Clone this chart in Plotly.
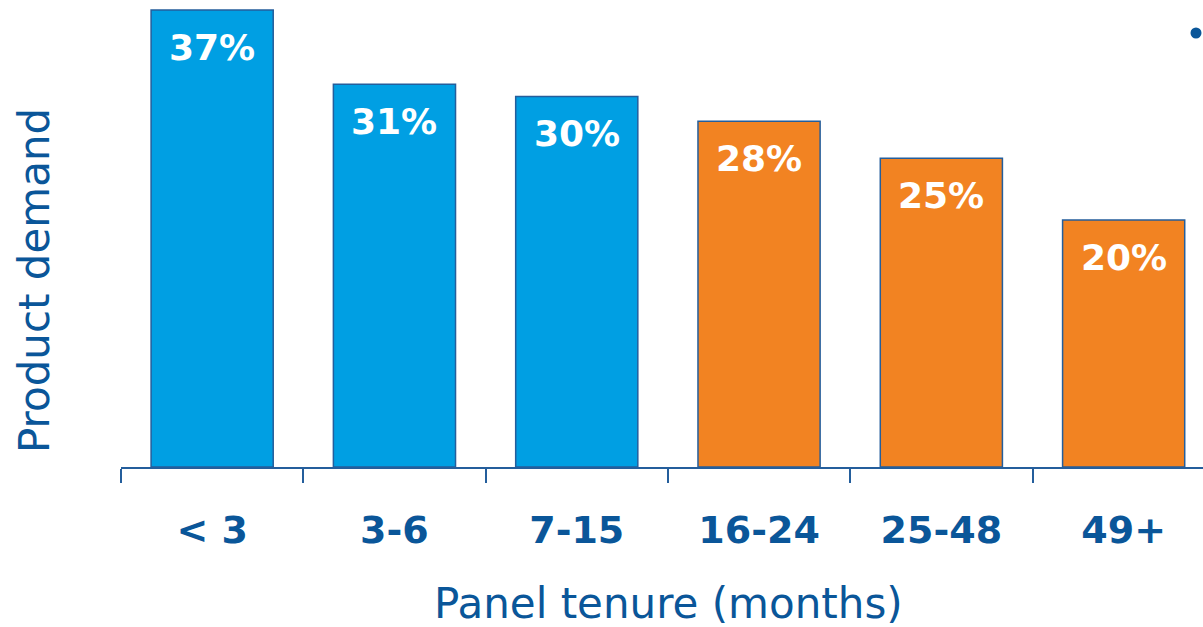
import plotly.graph_objects as go

# ---- data ----
categories = ["< 3", "3-6", "7-15", "16-24", "25-48", "49+"]
demand_pct = [37, 31, 30, 28, 25, 20]
tenure_group = ["new", "new", "new", "long", "long", "long"]
value_labels = [f"{v}%" for v in demand_pct]
x_title = "Panel tenure (months)"
y_title = "Product demand"

# ---- styles ----
BLUE = "#009FE3"
ORANGE = "#F28322"
DARK = "#0A5699"
LINE = "#245E9C"
group_colors = {"new": BLUE, "long": ORANGE}
bar_colors = [group_colors[g] for g in tenure_group]

W, H = 1203, 627
ML, MB, MT, MR = 121, 160, 0, 0
cat_px = 182.3
plot_w = W - ML - MR
x_hi = -0.5 + plot_w / cat_px
px_per_unit = 12.35
plot_h = H - MB - MT
y_hi = plot_h / px_per_unit


def px_x(px):
    return (px - ML) / plot_w


def px_y(py):
    return 1 - (py - MT) / plot_h


fig = go.Figure()
fig.add_trace(go.Bar(
    x=categories,
    y=demand_pct,
    width=0.67,
    marker=dict(color=bar_colors, line=dict(color=LINE, width=1.5)),
    hoverinfo="skip",
))

for c, v, t in zip(categories, demand_pct, value_labels):
    fig.add_annotation(
        x=c, y=v, xref="x", yref="y", text=t, showarrow=False,
        yanchor="middle", xanchor="center", yshift=-37,
        font=dict(family="DejaVu Sans", size=36, color="white", weight="bold"),
    )

# axis titles
fig.add_annotation(
    x=px_x(668), y=px_y(603), xref="paper", yref="paper", text=x_title,
    showarrow=False, xanchor="center", yanchor="middle",
    font=dict(family="DejaVu Sans", size=42, color=DARK),
)
fig.add_annotation(
    x=px_x(34), y=px_y(281), xref="paper", yref="paper", text=y_title,
    showarrow=False, xanchor="center", yanchor="middle", textangle=-90,
    font=dict(family="DejaVu Sans", size=42, color=DARK),
)

# bullet at the top-right corner (cut-off text marker)
fig.add_shape(
    type="circle", xref="paper", yref="paper",
    xsizemode="pixel", ysizemode="pixel",
    xanchor=px_x(1196), yanchor=px_y(33),
    x0=-5.5, x1=5.5, y0=-5.5, y1=5.5,
    fillcolor=DARK, line=dict(width=0),
)

fig.update_layout(
    width=W, height=H,
    margin=dict(l=ML, r=MR, t=MT, b=MB, pad=0),
    plot_bgcolor="white", paper_bgcolor="white",
    showlegend=False,
    xaxis=dict(
        type="category",
        range=[-0.5, x_hi],
        showline=True, linecolor=LINE, linewidth=1.5,
        ticks="outside", tickson="boundaries", ticklen=14, tickwidth=1.5, tickcolor=LINE,
        ticklabelstandoff=29,
        tickfont=dict(family="DejaVu Sans", size=38, color=DARK, weight="bold"),
        showgrid=False, zeroline=False,
    ),
    yaxis=dict(
        range=[0, y_hi],
        showticklabels=False, ticks="", showgrid=False, zeroline=False, showline=False,
    ),
)

fig.write_html("out.html")
